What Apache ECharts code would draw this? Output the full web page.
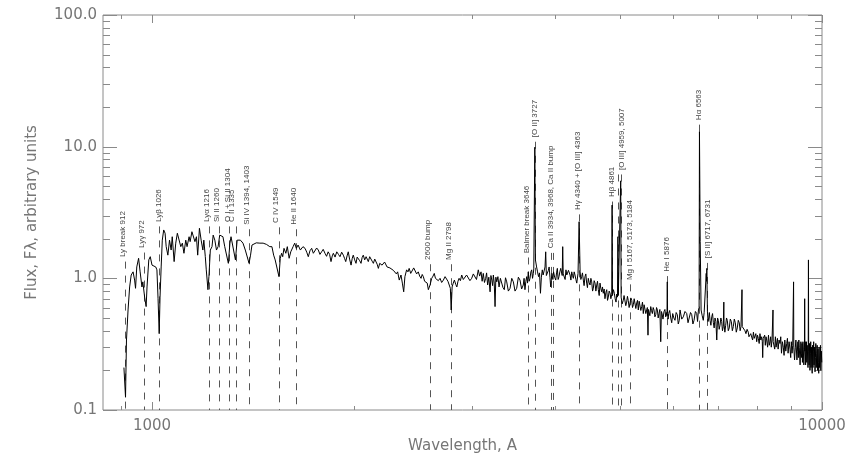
<!DOCTYPE html>
<html><head><meta charset="utf-8">
<script src="https://cdn.jsdelivr.net/npm/echarts/dist/echarts.min.js"></script>
<style>html,body{margin:0;padding:0;background:#fff}#c{width:852px;height:454px}</style>
</head><body><div id="c"></div>
<script>
// spectrum, [wavelength in Angstrom, flux in arbitrary units]
const specFarUV = [
[908,0.21],[913,0.125],[916,0.34],[921,0.575],[926,0.86],[931,1.06],[937,1.12],[942,0.97],[945,0.84],[949,1.22],[955,1.42],[960,1.12],[966,0.86],[969,0.94],[975,0.72],[980,0.61],[983,0.86],[989,1.38],[994,1.46],[1000,1.26],
[1006,1.26],[1013,1.22],[1017,1.16],[1021,0.70],[1025,0.38],[1028,0.72],[1032,1.22],[1036,1.95],[1041,2.33],[1046,2.20],[1050,1.74],[1056,1.50],[1062,1.95],[1068,1.64],[1072,2.07],[1079,1.34],[1085,1.85],[1091,2.20],[1097,2.20],[1104,1.74],
[1110,1.85],[1116,1.55],[1123,1.95],[1128,1.74],[1136,2.07],[1140,1.90],[1147,2.26],[1154,2.20],[1159,1.90],[1165,2.07],[1170,1.50],[1177,2.40],[1184,1.95],[1191,1.64],[1195,1.95],[1201,1.46],[1205,1.16],[1212,0.82],[1216,1.03],[1222,1.64],
[1229,1.74],[1234,2.13],[1241,1.95],[1248,1.64],[1255,1.74],[1262,2.13],[1269,2.07],[1276,2.07],[1284,1.74],[1300,1.30],[1307,1.85],[1312,2.07],[1318,2.01],[1332,1.38],[1340,1.95],[1347,2.01],[1355,1.95],[1367,1.85],[1378,1.64],[1396,1.30],
[1403,1.50],[1410,1.79],[1418,1.85],[1431,1.86],[1440,1.80],[1449,1.85],[1457,1.82],[1465,1.85],[1482,1.81],[1499,1.74],[1510,1.74],[1519,1.50],[1527,1.38],[1533,1.42],[1547,1.03],[1554,1.42],[1561,1.55],[1567,1.46],[1574,1.69],[1584,1.55],[1592,1.74],[1602,1.42],
[1611,1.59],[1624,1.74],[1633,1.85],[1642,1.69],[1652,1.79],[1665,1.64],[1680,1.74]
];
const specNearUV = [
[1692,1.69],[1702,1.58],[1711,1.46],[1721,1.62],[1731,1.69],[1741,1.55],[1751,1.59],[1761,1.70],[1771,1.64],[1781,1.52],[1791,1.59],[1801,1.66],[1812,1.55],[1822,1.47],[1832,1.59],[1841,1.52],[1850,1.34],[1858,1.48],[1865,1.55],[1876,1.45],
[1887,1.59],[1898,1.52],[1908,1.46],[1919,1.58],[1930,1.50],[1938,1.42],[1946,1.34],[1955,1.48],[1963,1.59],[1972,1.40],[1982,1.26],[1990,1.42],[1997,1.50],[2007,1.38],[2016,1.30],[2024,1.45],[2032,1.42],[2042,1.36],[2051,1.30],[2059,1.44],
[2067,1.50],[2077,1.38],[2087,1.46],[2095,1.40],[2103,1.34],[2113,1.46],[2123,1.42],[2131,1.35],[2140,1.30],[2150,1.40],[2160,1.38],[2168,1.28],[2177,1.19],[2187,1.30],[2197,1.34],[2205,1.26],[2214,1.22],[2224,1.33],[2235,1.30],[2243,1.22],
[2252,1.26],[2265,1.20],[2279,1.22],[2292,1.15],[2305,1.19],[2316,1.08],[2326,1.12],[2339,0.97],[2353,1.06],[2364,0.92],[2375,0.79],[2385,1.03],[2399,1.16],[2410,1.12],[2420,1.19],[2433,1.09],[2446,1.12],[2458,1.20],[2469,1.16],[2483,1.08],
[2497,1.12],[2509,1.04],[2521,1.00],[2531,1.07],[2541,1.03],[2552,0.95],[2564,0.97],[2575,0.92],[2585,0.82],[2600,0.89],[2615,1.00],[2627,1.04],[2638,1.09],[2649,1.00],[2660,1.03],[2675,0.96],[2691,1.00],[2706,0.93],[2722,0.97],[2738,1.03],
[2754,1.00],[2765,0.95],[2775,0.92],[2788,0.84],[2796,0.575],[2805,0.86],[2816,0.92],[2827,0.97],[2840,0.90],[2851,0.86],[2862,0.95],[2873,1.00],[2886,0.96],[2899,1.06],[2915,0.98],[2932,1.00],[2948,1.06],[2965,1.03],[2982,0.96]
];
const specBlue = [
[3000,1.00],[3017,1.08],[3034,1.06],[3050,0.98],[3069,1.16],[3083,1.04],[3098,1.12],[3110,0.95],[3122,1.09],[3135,0.93],[3148,1.00],[3158,1.10],[3169,0.89],[3182,1.02],[3196,0.79],[3205,1.05],[3215,0.97],[3224,0.88],[3232,1.06],[3242,0.92],
[3251,0.61],[3260,1.02],[3270,0.94],[3283,1.03],[3296,0.86],[3311,1.00],[3326,0.97],[3341,0.85],[3356,0.82],[3370,1.01],[3384,0.94],[3403,0.80],[3423,0.84],[3443,1.00],[3462,0.94],[3482,0.80],[3502,0.84],[3522,1.02],[3542,0.97],[3562,0.83],
[3582,0.89],[3592,1.00],[3603,0.82],[3614,0.95],[3625,1.03],[3635,0.92],[3644,1.12],[3655,0.95],[3666,1.00],[3677,1.12],[3687,1.16],[3698,1.00],[3708,1.09],[3714,1.18],[3720,1.22],[3727,9.9],[3735,1.38],[3750,1.22],[3762,1.12],[3775,1.03],
[3788,1.10],[3800,0.77],[3812,1.02],[3824,1.16],[3835,1.06],[3846,1.03],[3860,1.22],[3869,1.59],[3878,1.05],[3895,1.03],[3905,1.15],[3915,1.22],[3926,1.02],[3936,0.86],[3952,1.09],[3966,0.98],[3975,1.12],[3990,1.02],[4005,0.97],[4016,1.10],
[4027,1.19],[4038,0.98],[4050,1.03],[4062,1.12],[4074,1.19],[4095,1.05],[4102,1.74],[4109,1.08],[4124,1.09],[4136,0.98],[4148,1.16],[4160,1.06],[4172,1.03],[4184,1.15],[4195,1.12],[4207,1.06],[4219,0.97],[4231,1.12],[4243,1.05],[4255,1.00],
[4267,1.12],[4279,1.06],[4292,0.98],[4305,0.92],[4324,1.09],[4340,2.69],[4355,1.12],[4366,0.98],[4378,1.03],[4390,1.10],[4403,0.97],[4415,0.88],[4428,1.03],[4441,1.08],[4454,0.92],[4466,0.85],[4479,1.00],[4492,0.93],[4506,0.89],[4519,1.00],
[4532,0.94],[4545,0.80],[4557,0.84],[4570,0.96],[4584,0.92],[4597,0.80],[4611,0.89],[4623,0.95],[4636,0.82],[4650,0.74],[4663,0.92],[4676,0.84],[4690,0.79],[4703,0.86],[4716,0.77],[4730,0.83],[4743,0.70],[4758,0.78],[4772,0.82],[4785,0.68],
[4798,0.72],[4812,0.80],[4827,0.77],[4840,0.70],[4855,0.75],[4861,3.6],[4867,0.74],[4883,0.82],[4898,0.77],[4912,0.70],[4927,0.66],[4940,0.76],[4952,0.72],[4959,2.07],[4966,0.74]
];
const specOptical = [
[4985,0.75],[5000,0.75],[5007,5.5],[5014,0.72],[5032,0.64],[5051,0.68],[5065,0.74],[5080,0.72],[5095,0.62],[5110,0.66],[5124,0.73],[5138,0.68],[5154,0.60],[5170,0.65],[5185,0.71],[5200,0.68],[5214,0.60],[5229,0.63],[5244,0.70],[5259,0.68],
[5274,0.59],[5290,0.65],[5304,0.68],[5319,0.575],[5335,0.67],[5350,0.65],[5365,0.57],[5381,0.61],[5396,0.66],[5411,0.54],[5426,0.63],[5442,0.61],[5458,0.54],[5475,0.575],[5487,0.60],[5499,0.37],[5508,0.58],[5517,0.575],[5534,0.52],[5551,0.61],
[5566,0.57],[5582,0.54],[5598,0.60],[5614,0.575],[5631,0.51],[5648,0.53],[5663,0.60],[5679,0.575],[5695,0.50],[5711,0.54],[5728,0.58],[5745,0.33],[5758,0.56],[5771,0.54],[5790,0.49],[5810,0.56],[5828,0.58],[5845,0.51],[5858,0.55],[5870,0.52],
[5876,0.94],[5882,0.54],[5893,0.49],[5904,0.54],[5925,0.57],[5946,0.50],[5966,0.46],[5987,0.54],[6010,0.50],[6034,0.48],[6058,0.55],[6082,0.53],[6102,0.45],[6123,0.48],[6139,0.575],[6175,0.49],[6209,0.51],[6245,0.56],[6282,0.54],[6310,0.46],
[6338,0.47],[6365,0.55],[6391,0.53],[6417,0.45],[6442,0.48],[6472,0.56],[6502,0.54],[6520,0.47],[6540,0.575],[6555,0.60],[6563,13],[6580,1.9],[6600,0.575],[6625,0.52],[6650,0.48],[6670,0.55],[6690,0.54],[6705,0.55],[6717,1.09],[6724,0.95],[6731,1.19]
];
const specNearIR = [
[6745,0.56],[6760,0.47],[6775,0.50],[6790,0.55],[6806,0.48],[6826,0.44],[6846,0.51],[6865,0.54],[6884,0.46],[6903,0.42],[6923,0.50],[6944,0.47],[6965,0.34],[6984,0.50],[7003,0.48],[7023,0.41],[7043,0.44],[7064,0.50],[7084,0.47],[7103,0.40],
[7123,0.43],[7130,0.44],[7136,0.66],[7142,0.45],[7162,0.39],[7182,0.44],[7202,0.50],[7222,0.48],[7246,0.40],[7271,0.42],[7297,0.49],[7323,0.47],[7348,0.40],[7373,0.43],[7398,0.49],[7423,0.46],[7448,0.39],[7474,0.42],[7500,0.48],[7525,0.46],
[7548,0.40],[7570,0.43],[7590,0.43],[7596,0.82],[7602,0.43],[7622,0.43],[7648,0.42],[7674,0.40],[7700,0.38],[7730,0.41],[7762,0.39],[7780,0.36],[7800,0.35],[7828,0.38],[7855,0.37],[7878,0.34],[7900,0.39],[7922,0.35],[7943,0.36],[7966,0.38],
[7990,0.33],[8012,0.37],[8035,0.35],[8058,0.32],[8080,0.38],[8104,0.34],[8128,0.36],[8145,0.33],[8156,0.25],[8170,0.35],[8193,0.35],[8212,0.37],[8230,0.31],[8250,0.36],[8269,0.34],[8295,0.30],[8320,0.37],[8342,0.31],[8364,0.33],[8382,0.36],
[8400,0.30],[8422,0.34],[8444,0.33],[8450,0.575],[8456,0.33],[8479,0.33],[8500,0.29],[8520,0.36],[8540,0.30],[8559,0.31],[8580,0.35],[8600,0.29],[8628,0.34],[8656,0.32],[8678,0.36],[8700,0.27],[8728,0.33],[8755,0.30],[8778,0.26],[8800,0.34],
[8830,0.28],[8858,0.32],[8880,0.35],[8900,0.27],[8930,0.33],[8960,0.29],[8980,0.25],[9000,0.33],[9022,0.27],[9043,0.31],[9062,0.30],[9069,0.94],[9076,0.30],[9100,0.24],[9124,0.30],[9142,0.34],[9160,0.33],[9175,0.24],[9187,0.28],[9205,0.33],
[9220,0.25],[9235,0.34],[9249,0.30],[9275,0.22],[9300,0.33],[9313,0.27],[9326,0.25],[9338,0.32],[9350,0.23],[9365,0.33],[9378,0.29],[9395,0.22],[9415,0.30],[9422,0.70],[9429,0.28],[9440,0.33],[9452,0.22],[9464,0.27],[9478,0.33],[9490,0.23],
[9505,0.31],[9519,0.30],[9530,0.21],[9538,0.30],[9545,1.38],[9552,0.28],[9566,0.22],[9580,0.32],[9594,0.20],[9608,0.27],[9620,0.33],[9630,0.21],[9642,0.30],[9654,0.24],[9668,0.19],[9680,0.31],[9694,0.21],[9707,0.28],[9718,0.33],[9730,0.22],
[9746,0.30],[9763,0.195],[9776,0.25],[9790,0.32],[9806,0.21],[9821,0.27],[9836,0.31],[9850,0.20],[9862,0.29],[9875,0.23],[9888,0.19],[9900,0.30],[9917,0.21],[9934,0.26],[9947,0.31],[9960,0.20],[9976,0.28],[9992,0.23]
];

// line identifications: text, wavelength where the label sits, flux where the label starts
const labelText = ['Ly break 912','Lyγ 972','Lyβ 1026','Lyα 1216','Si II 1260','O I + Si II 1304','C II 1335',
  'Si IV 1394, 1403','C IV 1549','He II 1640','2600 bump','Mg II 2798','Balmer break 3646','[O II] 3727',
  'Ca II 3934, 3968, Ca II bump','Hγ 4340 + [O III] 4363','Hβ 4861','[O III] 4959, 5007','Mg I 5167, 5173, 5184',
  'He I 5876','Hα 6563','[S II] 6717, 6731'];
const labelWave = [903,967,1022,1206,1251,1297,1317,1385,1529,1626,2577,2777,3622,3723,3934,4325,4860,5020,5160,5867,6538,6758];
const labelFlux = [1.45,1.70,2.68,2.68,2.68,2.68,2.68,2.55,2.63,2.55,1.38,1.38,1.55,11.8,1.69,3.30,4.14,6.64,0.97,1.12,15.9,1.42];

// dashed marker lines: wavelength and top flux
const markWave = [912,972,1026,1216,1260,1304,1335,1398,1549,1640,2600,2798,3646,3727,3934,3968,4340,4861,4959,5007,5175,5876,6563,6724];
const markTop  = [1.34,1.57,2.48,2.48,2.48,2.48,2.48,2.36,2.44,2.36,1.28,1.28,1.44,10.9,1.56,1.56,3.06,3.83,6.15,6.15,0.90,1.04,14.7,1.31];

// ticks
const xMajorTicks = [1000,10000];
const xMinorTicks = [900,2000,3000,4000,5000,6000,7000,8000,9000];
const yMajorTicks = [0.1,1,10,100];
const yMinorTicks = [0.2,0.3,0.4,0.5,0.6,0.7,0.8,0.9,2,3,4,5,6,7,8,9,20,30,40,50,60,70,80,90];
const X_MIN = 845, X_MAX = 10000, Y_MIN = 0.1, Y_MAX = 100;

const frameColor = '#8a8a8a';
const textColor = '#767676';
const chart = echarts.init(document.getElementById('c'), null, {renderer:'canvas'});

const spectrum = [].concat(specFarUV, specNearUV, specBlue, specOptical, specNearIR);
const xTickData = xMajorTicks.map(v=>[v, Y_MIN, 1]).concat(xMinorTicks.map(v=>[v, Y_MIN, 0]));
const yTickData = yMajorTicks.map(v=>[X_MIN, v, 1]).concat(yMinorTicks.map(v=>[X_MIN, v, 0]));

chart.setOption({
  animation:false,
  backgroundColor:'#fff',
  grid:{left:103, right:30, top:15, bottom:44, show:true, borderColor:frameColor, borderWidth:1, containLabel:false, outerBoundsMode:'none'},
  xAxis:{type:'log', logBase:10, min:X_MIN, max:X_MAX,
    name:'Wavelength, A', nameLocation:'middle', nameGap:26,
    nameTextStyle:{color:textColor, fontSize:15, fontFamily:'DejaVu Sans'},
    axisLine:{show:false}, axisTick:{show:false}, splitLine:{show:false}, minorTick:{show:false},
    axisLabel:{color:textColor, fontSize:15, fontFamily:'DejaVu Sans', margin:9,
      formatter:function(v){const e=Math.log10(v); if(Math.abs(e-Math.round(e))<1e-6) return String(Math.round(v)); return '';}}
  },
  yAxis:{type:'log', logBase:10, min:Y_MIN, max:Y_MAX,
    name:'Flux, Fλ, arbitrary units', nameLocation:'middle', nameGap:63,
    nameTextStyle:{color:textColor, fontSize:15, fontFamily:'DejaVu Sans'},
    axisLine:{show:false}, axisTick:{show:false}, splitLine:{show:false}, minorTick:{show:false},
    axisLabel:{color:textColor, fontSize:15, fontFamily:'DejaVu Sans', margin:6,
      formatter:function(v){const e=Math.log10(v); if(Math.abs(e-Math.round(e))<1e-6) return Number(Math.pow(10,Math.round(e))).toFixed(1); return '';}}
  },
  series:[
    {type:'custom', coordinateSystem:'cartesian2d', silent:true, clip:false, z:1, data:xTickData,
      renderItem:function(params, api){
        const cs=params.coordSys; const p=api.coord([api.value(0), Y_MIN]);
        const len = api.value(2) ? 8 : 4; const x=Math.round(p[0])+0.5;
        const b=cs.y+cs.height, t=cs.y;
        return {type:'group', children:[
          {type:'line', shape:{x1:x,y1:b,x2:x,y2:b-len}, style:{stroke:frameColor, lineWidth:1}},
          {type:'line', shape:{x1:x,y1:t,x2:x,y2:t+len}, style:{stroke:frameColor, lineWidth:1}}
        ]};
      }},
    {type:'custom', coordinateSystem:'cartesian2d', silent:true, clip:false, z:1, data:yTickData,
      renderItem:function(params, api){
        const cs=params.coordSys; const p=api.coord([X_MIN, api.value(1)]);
        const len = api.value(2) ? 14 : 7; const y=Math.round(p[1])+0.5;
        const l=cs.x, r=cs.x+cs.width;
        return {type:'group', children:[
          {type:'line', shape:{x1:l,y1:y,x2:l+len,y2:y}, style:{stroke:frameColor, lineWidth:1}},
          {type:'line', shape:{x1:r,y1:y,x2:r-len,y2:y}, style:{stroke:frameColor, lineWidth:1}}
        ]};
      }},
    {type:'custom', coordinateSystem:'cartesian2d', silent:true, clip:true, z:2,
      data: markWave.map((w,i)=>[w, markTop[i]]),
      renderItem:function(params, api){
        const top=api.coord([api.value(0), api.value(1)]);
        const bot=api.coord([api.value(0), Y_MIN]);
        const x=Math.round(top[0])+0.5;
        return {type:'line', shape:{x1:x,y1:top[1],x2:x,y2:bot[1]}, style:{stroke:'#555', lineWidth:1, lineDash:[7,7]}};
      }},
    {type:'line', data: spectrum, showSymbol:false, symbol:'none',
      lineStyle:{color:'#000', width:1}, z:3, silent:true, clip:true},
    {type:'custom', coordinateSystem:'cartesian2d', silent:true, clip:false, z:4,
      data: labelText.map((t,i)=>[labelWave[i], labelFlux[i], i]),
      renderItem:function(params, api){
        const p=api.coord([api.value(0), api.value(1)]);
        return {type:'text', x:p[0], y:p[1], rotation:Math.PI/2,
          style:{text:labelText[api.value(2)], x:0, y:0, fill:'#444', font:'8px "Liberation Sans"', align:'left', verticalAlign:'middle'}};
      }}
  ]
});
</script></body></html>
